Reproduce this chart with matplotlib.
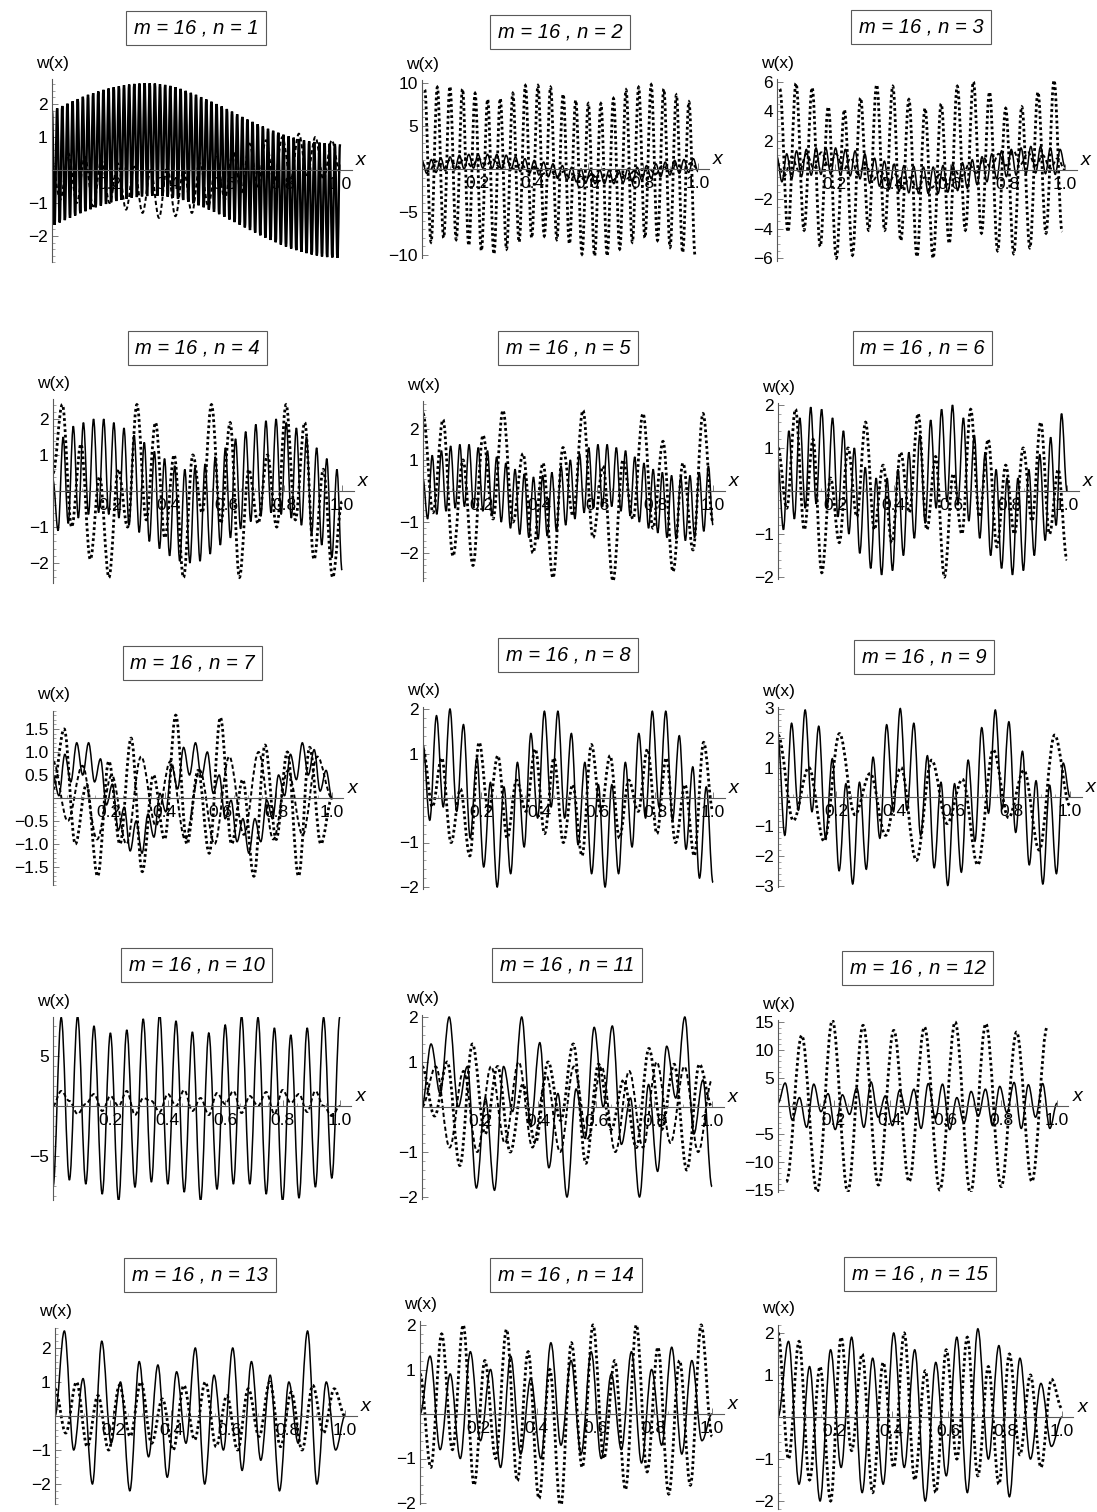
import numpy as np
import matplotlib
matplotlib.use("Agg")
import matplotlib.pyplot as plt
from matplotlib.path import Path
from matplotlib.patches import PathPatch
from matplotlib.ticker import MultipleLocator

plt.rcParams['font.family'] = ['Liberation Sans', 'DejaVu Sans']

W, H = 1097, 1512

# turning-point values (peak, trough, peak, ...)
n1_peaks = [1.80, 1.87, 1.94, 2.01, 2.08, 2.15, 2.22, 2.28, 2.33, 2.38, 2.43, 2.47, 2.51, 2.54, 2.57,
            2.59, 2.61, 2.62, 2.63, 2.63, 2.62, 2.60, 2.58, 2.55, 2.51, 2.46, 2.40, 2.34, 2.28, 2.21,
            2.14, 2.07, 2.00, 1.93, 1.85, 1.77, 1.69, 1.61, 1.53, 1.46, 1.39, 1.32, 1.25, 1.19, 1.13,
            1.07, 1.02, 0.98, 0.94, 0.90, 0.87, 0.85, 0.83, 0.81, 0.80, 0.79, 0.78]
n1_troughs = [-1.66, -1.59, -1.52, -1.45, -1.38, -1.31, -1.25, -1.19, -1.13, -1.08, -1.03, -0.98, -0.94,
              -0.90, -0.87, -0.84, -0.82, -0.80, -0.79, -0.78, -0.78, -0.79, -0.81, -0.84, -0.87, -0.91,
              -0.96, -1.01, -1.07, -1.13, -1.20, -1.27, -1.34, -1.42, -1.50, -1.58, -1.66, -1.74, -1.82,
              -1.90, -1.98, -2.05, -2.12, -2.19, -2.26, -2.32, -2.38, -2.43, -2.48, -2.52, -2.56, -2.59,
              -2.62, -2.64, -2.65, -2.66]
n1_dots = [0.2, -0.9, 0.5, -1.0, 0.4, -1.1, 0.3, -1.0, 0.2, -1.2, 0.1, -1.3, 0.0, -1.45, 0.1, -1.4, 0.0, -1.3,
           0.2, -1.1, 0.4, -0.9, 0.6, -0.7, 0.8, -0.5, 0.9, -0.4, 1.0, -0.3, 1.1, -0.2, 1.0, -0.3, 0.9, -0.1]

n2_big = [9.2, -8.5, 9.5, -8.0, 9.6, -8.2, 9.3, -8.9, 8.8, -9.5, 8.1, -9.9, 8.2, -9.3, 8.8, -8.5, 9.7, -8.0,
          9.7, -7.8, 9.5, -8.2, 8.7, -8.7, 8.0, -9.9, 7.6, -10.1, 7.6, -10.1, 8.2, -9.3, 9.2, -8.5, 9.5, -8.0,
          9.8, -8.3, 9.3, -9.1, 8.6, -9.7, 7.8, -10.2]
n2_small = [1.0, -0.5, 1.1, -0.4, 1.3, -0.2, 1.4, -0.1, 1.6, 0.0, 1.7, 0.1, 1.7, 0.1, 1.7, 0.1, 1.7, 0.0,
            1.6, -0.1, 1.4, -0.3, 1.2, -0.5, 1.0, -0.7, 0.8, -0.9, 0.6, -1.1, 0.4, -1.3, 0.2, -1.5, 0.0, -1.6,
            -0.1, -1.7, -0.1, -1.7, -0.1, -1.7, -0.1, -1.6, 0.0, -1.5, 0.2, -1.3, 0.4, -1.1, 0.6, -0.9,
            0.8, -0.7, 1.0, -0.5, 1.1, -0.4, 1.2, -0.3]
n2_small_dash = [0.6, -0.3, 0.9, 0.0, 1.1, 0.2, 1.3, 0.3, 1.2, 0.4, 1.1, 0.2, 0.9, 0.0, 0.6, -0.3, 0.3, -0.6,
                 0.0, -0.9, -0.3, -1.1, -0.5, -1.3, -0.6, -1.4, -0.6, -1.3, -0.4, -1.1, -0.2, -0.9, 0.1,
                 -0.6, 0.4, -0.3, 0.6, -0.1, 0.7, 0.0]

n3_big = [5.5, -4.2, 5.9, -4.1, 5.6, -5.2, 4.3, -6.0, 4.1, -5.8, 4.9, -4.1, 5.8, -4.1, 5.7, -4.8, 4.8, -5.9,
          4.2, -6.0, 4.5, -5.0, 5.7, -4.1, 6.0, -4.3, 5.3, -5.5, 4.2, -5.7, 4.3, -5.3, 5.3, -4.3, 6.1, -4.2]
n3_small = [0.9, -0.8, 1.1, -0.6, 1.3, -0.45, 1.4, -0.35, 1.5, -0.3, 1.5, -0.3, 1.5, -0.35, 1.4, -0.4,
            1.3, -0.6, 1.1, -0.9, 0.8, -1.1, 0.6, -1.3, 0.4, -1.45, 0.3, -1.55, 0.25, -1.6, 0.2, -1.6,
            0.2, -1.6, 0.3, -1.5, 0.4, -1.4, 0.5, -1.25, 0.7, -1.0, 0.9, -0.8, 1.1, -0.6, 1.3, -0.45,
            1.4, -0.35, 1.5, -0.25, 1.6, -0.2, 1.6, -0.25, 1.5, -0.3, 1.4, 0.2]
n3_small_dash = [0.5, -0.4, 0.9, -0.1, 1.1, 0.1, 1.2, 0.2, 1.1, 0.0, 0.8, -0.3, 0.4, -0.7, 0.0, -1.0, -0.3,
                 -1.2, -0.5, -1.3, -0.5, -1.2, -0.3, -1.0, 0.0, -0.6, 0.4, -0.2, 0.8, 0.1, 1.1, 0.3, 1.3,
                 0.4, 1.2, 0.3, 1.0, 0.1, 0.8, 0.0]

n4_solid = [0.3, -1.1, 1.5, -0.9, 1.8, -0.75, 1.9, -0.65, 2.0, -0.6, 2.0, -0.65, 1.9, -0.75, 1.75, -0.95,
            1.55, -1.15, 1.35, -1.4, 1.1, -1.6, 0.9, -1.8, 0.7, -1.95, 0.6, -2.0, 0.65, -1.95, 0.75, -1.75,
            0.95, -1.5, 1.2, -1.3, 1.45, -1.05, 1.65, -0.85, 1.85, -0.7, 1.95, -0.6, 2.0, -0.65, 1.9, -0.75,
            1.75, -0.95, 1.5, -1.2, 1.2, -1.5, 0.9, -1.85, 0.6, -2.2]
n4_dots = [0.5, 2.4, -1.0, 1.3, -1.9, 0.4, -2.4, 0.6, -1.0, 2.4, -0.8, 1.9, -1.3, 1.0, -2.4, 1.0, -0.6, 2.4,
           -0.9, 1.9, -2.4, 0.6, -0.9, 1.0, -1.0, 2.4, -0.8, 1.9, -1.9, 0.6, -2.4, -0.3]

n5_solid = [0.4, -0.9, 1.15, -0.75, 1.3, -0.65, 1.45, -0.55, 1.5, -0.5, 1.5, -0.55, 1.4, -0.65, 1.3, -0.8,
            1.1, -1.0, 0.9, -1.2, 0.7, -1.4, 0.55, -1.5, 0.45, -1.55, 0.5, -1.45, 0.6, -1.3, 0.8, -1.1,
            1.0, -0.9, 1.2, -0.7, 1.4, -0.55, 1.5, -0.5, 1.5, -0.5, 1.4, -0.65, 1.3, -0.8, 1.1, -1.0,
            0.9, -1.2, 0.7, -1.35, 0.6, -1.5, 0.5, -1.55, 0.45, -1.6, 0.5, -1.5, 0.6, -1.3, 0.8, -1.1]
n5_dots = [2.5, -0.7, 2.3, -2.1, 1.0, -2.4, 1.8, -0.9, 2.6, -1.0, 1.2, -2.0, 0.9, -2.8, 1.4, -0.8, 2.6, -1.5,
           0.8, -2.9, 1.0, -0.9, 2.5, -1.2, 1.6, -2.6, 0.9, -1.9, 2.5, -1.0]

n6_solid = [0.6, -0.9, 1.4, -0.65, 1.7, -0.4, 1.95, -0.3, 1.9, -0.4, 1.7, -0.6, 1.4, -1.0, 1.0, -1.45,
            0.55, -1.8, 0.3, -1.95, 0.3, -1.85, 0.5, -1.5, 0.9, -1.1, 1.3, -0.75, 1.65, -0.4, 1.9, -0.25,
            2.0, -0.3, 1.7, -0.7, 1.3, -1.1, 0.9, -1.5, 0.5, -1.8, 0.3, -1.95, 0.3, -1.85, 0.5, -1.5,
            0.85, -1.15, 1.25, -0.8, 1.8, 0.0]
n6_dots = [1.0, -0.4, 1.9, -0.9, 1.2, -1.9, 0.3, -1.2, 1.0, -0.6, 1.6, -0.9, 0.6, -1.2, 0.9, -0.5, 1.8, -0.9,
           0.8, -2.0, 0.4, -1.0, 1.9, -0.6, 1.2, -1.3, 0.6, -1.0, 1.0, -0.7, 1.6, -1.0, 0.5, -1.6]

n7_solid = [0.5, 0.05, 0.95, 0.35, 1.2, 0.5, 1.2, 0.35, 0.85, -0.15, 0.3, -0.7, -0.2, -1.15, -0.5, -1.2,
            -0.35, -0.85, 0.1, -0.3, 0.7, 0.2, 1.1, 0.5, 1.2, 0.45, 1.0, 0.1, 0.5, -0.45, -0.05, -0.95,
            -0.45, -1.2, -0.45, -0.95, -0.05, -0.45, 0.5, 0.05, 0.95, 0.4, 1.2, 0.5, 1.05, 0.15, 0.6, 0.0]
n7_dots = [0.2, 1.5, -1.0, 0.3, -1.7, 0.8, -1.0, 1.3, -1.6, 0.5, -0.9, 1.8, -1.0, 0.6, -1.2, 1.75, -1.0, 0.4,
           -1.7, 1.15, -0.9, 1.0, -1.7, 1.1, -1.0, 0.0]
n7_dash = [0.8, -0.5, 0.7, -0.9, 0.5, -1.0, 0.9, -0.6, 0.8, -0.9, 0.6, -1.0, 0.9, -0.8, 1.0, -0.9, 0.6, -0.8,
           0.9, 0.0]

n8_solid = [1.2, -0.5, 1.85, -0.2, 2.0, -0.3, 1.65, -0.9, 0.9, -1.55, 0.35, -2.0, 0.25, -1.7, 0.8, -1.1,
            1.45, -0.45, 1.95, -0.2, 1.95, -0.45, 1.45, -1.05, 0.8, -1.7, 0.3, -2.0, 0.3, -1.7, 0.8, -1.1,
            1.45, -0.45, 1.95, -0.2, 1.95, -0.5, 1.4, -1.15, 0.7, -1.8, 0.25, -1.9]
n8_dots = [1.1, -0.2, 0.9, -1.0, 0.2, -1.3, 1.25, -0.3, 0.95, -0.9, 0.4, -0.3, 1.1, -0.8, 0.9, -1.0, 0.3, -1.3,
           1.2, -0.3, 0.95, -0.9, 0.4, -0.3, 1.1, -0.8, 0.9, -1.0, 0.3, -1.3, 1.25, -0.3]

n9_solid = [2.0, -1.3, 2.5, -0.45, 2.95, -0.5, 2.4, -1.4, 1.3, -2.5, 0.45, -2.95, 0.5, -2.45, 1.35, -1.4,
            2.45, -0.5, 3.0, -0.45, 2.5, -1.3, 1.4, -2.4, 0.5, -3.0, 0.45, -2.55, 1.25, -1.5, 2.35, -0.55,
            2.95, -0.4, 2.55, -1.2, 1.55, -2.3, 0.55, -2.95, 0.4, -2.6, 1.15, 0.0]
n9_dots = [2.1, -0.8, 1.0, -1.5, 2.15, -0.6, 0.8, -1.3, 1.0, -2.15, 1.25, -0.9, 0.6, -2.3, 1.6, -0.7, 0.9, -1.8,
           2.1, -0.3]

n10_solid = [-8.1, 8.85, -7.4, 9.0, -7.8, 8.0, -8.8, 7.3, -9.5, 7.6, -8.1, 8.7, -7.6, 9.2, -7.8, 8.5, -8.6, 7.4,
             -9.5, 7.3, -8.3, 8.1, -7.8, 9.0, -7.8, 8.85, -8.8, 7.8, -9.5, 7.1, -9.2, 7.8, -8.1, 8.85, -7.2, 9.0]
n10_dash = [0.0, 1.5, 0.5, -0.8, 0.2, 1.2, -0.5, 1.0, 0.0, 1.5, -0.9, 0.8, 0.5, -0.6, 1.2, 0.0, 1.6, -0.5,
            0.8, -0.9, 1.3, 0.2, 1.5, -0.7, 1.0, 0.0, 1.4, -0.8, 1.6, 0.3, 1.2, -0.6, 1.5, 0.0, -1.0, 0.0]

n11_solid = [0.0, 1.4, 0.3, 2.0, 0.0, 0.9, -1.8, 0.2, -1.85, 0.9, -0.1, 2.0, -0.4, 1.43, -1.35, 0.3, -2.0,
             0.4, -0.7, 1.77, 0.0, 1.8, -0.83, 0.2, -2.0, 0.5, -1.43, 1.35, 0.2, 2.0, -0.6, 0.6, -1.77]
n11_dots = [0.9, -0.2, 1.0, -1.3, 1.4, -0.6, 0.9, -1.0, 0.5, -0.8, 1.0, -0.3, 1.4, -1.25, 0.95, -0.5, 0.6,
            -0.9, 1.3, -0.5, 0.95, -1.4, 0.95, 0.0]
n11_dash = [0.0, 0.9, -0.9, 0.8, -1.0, 0.9, -0.8, 1.0, -0.9, 0.7, -1.0, 0.9, -0.7, 0.9, -1.0, 0.8, -0.9, 1.0,
            -0.8, 0.9, -1.0, 0.6]

n12_dots = [-13.5, 12.6, -15.3, 15.3, -15.3, 14.4, -14.1, 13.5, -13.5, 14.1, -15.0, 15.0, -15.6, 14.7, -14.4,
            13.2, -13.5, 14.1]
n12_solid = [0.5, 4.1, -2.5, 1.5, -3.8, 3.9, -1.0, 2.2, -4.2, 2.0, -1.5, 3.2, -3.8, 4.3, -2.0, 1.8, -3.5, 2.8,
             -1.5, 3.0, -4.0, 4.0, -2.2, 3.9, -4.2, 1.5, -3.0, 2.6, -1.8, 3.0, -3.5, 3.5, -1.2, 4.2, -4.0, 3.8,
             -2.0, 4.0, -4.0, 0.5]

n13_solid = [0.0, 2.5, -1.0, 1.1, -2.0, 2.2, -0.8, 1.0, -2.2, 1.6, -1.2, 1.5, -1.8, 1.3, -0.8, 2.0, -2.0, 1.2,
             -1.0, 2.0, -1.6, 1.6, -1.3, 1.2, -2.2, 1.0, -0.8, 2.5, -2.0, 1.0, -1.0, 0.0]
n13_dots = [0.8, -0.5, 1.0, -0.9, 0.6, -1.0, 0.9, -0.6, 1.0, -0.8, 0.5, -1.0, 0.9, -0.7, 1.0, -0.9, 0.6, -1.0,
            0.8, -0.6, 1.0, -0.9, 0.7, -1.0, 0.9, -0.5, 0.8, 0.0]
n14_solid = [0.0, 1.3, -0.8, 0.9, -1.0, 1.4, -0.6, 1.0, -1.2, 1.3, -0.9, 0.8, -1.0, 1.6, -0.7, 1.2, -0.9, 1.4,
             -1.0, 0.9, -0.8, 1.4, -1.1, 1.0, -0.7, 1.5, -0.9, 1.2, -0.6, 0.0]
n14_dots = [0.9, -1.2, 1.8, -0.8, 2.0, -1.6, 1.2, -1.0, 1.9, -1.5, 1.4, -1.9, 1.0, -2.1, 1.6, -1.2, 2.0, -1.0,
            1.2, -1.7, 2.0, -1.3, 1.5, -1.8, 1.2, -1.6, 2.0, -0.5]
n15_solid = [0.0, 1.8, -1.6, 1.2, -2.0, 1.6, -1.2, 1.9, -1.8, 1.4, -1.6, 2.0, -1.2, 1.6, -2.0, 1.3, -1.4, 1.9,
             -1.8, 2.1, -1.0, 1.7, -1.9, 1.4, -1.0, 0.8, -0.7, 0.0]
n15_dots = [2.0, -1.0, 1.8, -1.5, 1.2, -2.0, 1.9, -0.8, 1.5, -1.8, 1.3, -1.2, 2.0, -1.5, 1.1, -1.8, 1.6, -1.0,
            1.9, -1.4, 1.2, -1.6, 1.5, -0.9, 1.0, -1.2, 0.9, 0.2]

yticks = [[-2, -1, 1, 2], [-10, -5, 5, 10], [-6, -4, -2, 2, 4, 6],
          [-2, -1, 1, 2], [-2, -1, 1, 2], [-2, -1, 1, 2],
          [-1.5, -1.0, -0.5, 0.5, 1.0, 1.5], [-2, -1, 1, 2], [-3, -2, -1, 1, 2, 3],
          [-5, 5], [-2, -1, 1, 2], [-15, -10, -5, 5, 10, 15],
          [-2, -1, 1, 2], [-2, -1, 1, 2], [-2, -1, 1, 2]]
xticks = [0.2, 0.4, 0.6, 0.8, 1.0]

n1_band = np.empty(len(n1_peaks) + len(n1_troughs))
n1_band[0::2] = n1_peaks
n1_band[1::2] = n1_troughs

# (values, style, x-span of the turning points)
curves = [
    [(n1_dots, 'dash', (0, 1)), (n1_band, 'band', (0, 1))],
    [(n2_big, 'dot', (0.01, 0.99)), (n2_small_dash, 'dash', (0, 1)), (n2_small, 'solid', (0, 1))],
    [(n3_big, 'dot', (0.01, 0.99)), (n3_small_dash, 'dash', (0, 1)), (n3_small, 'solid', (0, 1))],
    [(n4_dots, 'dot', (0, 1)), (n4_solid, 'solid', (0, 1))],
    [(n5_dots, 'dot', (0, 1)), (n5_solid, 'solid', (0, 1))],
    [(n6_dots, 'dot', (0, 1)), (n6_solid, 'solid', (0, 1))],
    [(n7_dots, 'dot', (0, 1)), (n7_dash, 'dash', (0, 1)), (n7_solid, 'solid', (0, 1))],
    [(n8_dots, 'dot', (0, 1)), (n8_solid, 'solid', (0, 1))],
    [(n9_dots, 'dot', (0, 1)), (n9_solid, 'solid', (0, 1))],
    [(n10_dash, 'dash', (0, 1)), (n10_solid, 'solid', (0, 1))],
    [(n11_dots, 'dot', (0, 1)), (n11_dash, 'dash', (0, 1)), (n11_solid, 'solid', (0, 1))],
    [(n12_dots, 'dot', (0.03, 0.965)), (n12_solid, 'solid', (0, 1))],
    [(n13_dots, 'dot', (0, 1)), (n13_solid, 'solid', (0, 1))],
    [(n14_dots, 'dot', (0, 1)), (n14_solid, 'solid', (0, 1))],
    [(n15_dots, 'dot', (0, 1)), (n15_solid, 'solid', (0, 1))],
]

# pixel layout: x of x=0, x of x=1, y of zero line, px per unit, ylim, minor step, title y
layout = [
    (52, 340, 170, 33.0, -2.8, 2.75, 0.2, 28), (422, 698, 169, 8.6, -10.3, 10.3, 1, 32),
    (777, 1065, 170, 14.7, -6.2, 6.2, 0.5, 27),
    (53, 342, 491, 36.0, -2.55, 2.55, 0.2, 348), (423, 713, 491, 31.0, -2.9, 2.9, 0.2, 348),
    (778, 1067, 491, 43.0, -2.05, 2.05, 0.2, 348),
    (53, 332, 798, 46.0, -1.9, 1.9, 0.1, 663), (423, 713, 798, 44.5, -2.05, 2.05, 0.2, 655),
    (778, 1070, 797, 29.5, -3.05, 3.05, 0.2, 657),
    (53, 340, 1106, 10.0, -9.4, 8.9, 1, 965), (422, 712, 1107, 45.0, -2.05, 2.05, 0.2, 965),
    (778, 1057, 1106, 5.6, -15.3, 15.3, 1, 968),
    (55, 345, 1416, 34.0, -2.6, 2.6, 0.2, 1275), (420, 712, 1414, 44.5, -2.03, 2.1, 0.2, 1275),
    (778, 1062, 1417, 42.0, -2.2, 2.2, 0.2, 1274),
]

STYLES = {
    'solid': dict(linestyle='-', linewidth=1.1),
    'band': dict(linestyle='-', linewidth=1.7),
    'dot': dict(linestyle=(0, (1.0, 1.0)), linewidth=2.0),
    'dash': dict(linestyle=(0, (2.2, 1.4)), linewidth=1.4),
}


def wave(values, span):
    # smooth curve through turning points: horizontal tangents at each one
    xs = np.linspace(span[0], span[1], len(values))
    verts = [(xs[0], values[0])]
    codes = [Path.MOVETO]
    for i in range(1, len(values)):
        d = (xs[i] - xs[i - 1]) * 0.36
        verts += [(xs[i - 1] + d, values[i - 1]), (xs[i] - d, values[i]), (xs[i], values[i])]
        codes += [Path.CURVE4] * 3
    return Path(verts, codes)


def fmt(v):
    s = f"{v:.1f}" if isinstance(v, float) else str(v)
    return s.replace('-', '\u2212')


fig = plt.figure(figsize=(W / 100, H / 100), dpi=100)
xr = 1.04

for k in range(15):
    x0, x1, zero, ppu, ylo, yhi, minor, ty = layout[k]
    top_px = zero - yhi * ppu
    bot_px = zero - ylo * ppu
    ax = fig.add_axes([x0 / W, 1 - bot_px / H, (x1 - x0) * xr / W, (bot_px - top_px) / H])
    ax.set_xlim(0, xr)
    ax.set_ylim(ylo, yhi)
    ax.patch.set_visible(False)
    for side in ('top', 'right'):
        ax.spines[side].set_visible(False)
    for side in ('left', 'bottom'):
        ax.spines[side].set_position(('data', 0))
        ax.spines[side].set_color('0.35')
        ax.spines[side].set_linewidth(0.8)

    ax.set_xticks(xticks)
    ax.set_xticklabels([f"{t:.1f}" for t in xticks])
    ax.set_yticks(yticks[k])
    ax.set_yticklabels([fmt(t) for t in yticks[k]])
    ax.yaxis.set_minor_locator(MultipleLocator(minor))
    ax.xaxis.set_minor_locator(MultipleLocator(0.05))
    ax.tick_params(which='major', direction='in', length=4, width=0.6, color='0.4',
                   labelsize=12.5, pad=3)
    ax.tick_params(axis='x', which='major', pad=5)
    ax.tick_params(which='minor', direction='in', length=2, width=0.5, color='0.5')
    ax.set_axisbelow(True)

    for values, style, span in curves[k]:
        ax.add_patch(PathPatch(wave(values, span), fill=False, edgecolor='black',
                               capstyle='butt', **STYLES[style]))

    ax.annotate('w(x)', xy=(0, yhi), xytext=(0, 6), textcoords='offset points',
                ha='center', va='bottom', fontsize=12.5, annotation_clip=False)
    ax.annotate('x', xy=(xr, 0), xytext=(3, 1), textcoords='offset points',
                ha='left', va='bottom', fontsize=14, style='italic', annotation_clip=False)

    fig.text((x0 + x1) / 2 / W, 1 - ty / H, f"m = 16 , n = {k + 1}", ha='center', va='center',
             fontsize=14.5, style='italic',
             bbox=dict(boxstyle='square,pad=0.38', fc='white', ec='0.35', lw=0.8))

fig.savefig('out.png', dpi=100, facecolor='white')
